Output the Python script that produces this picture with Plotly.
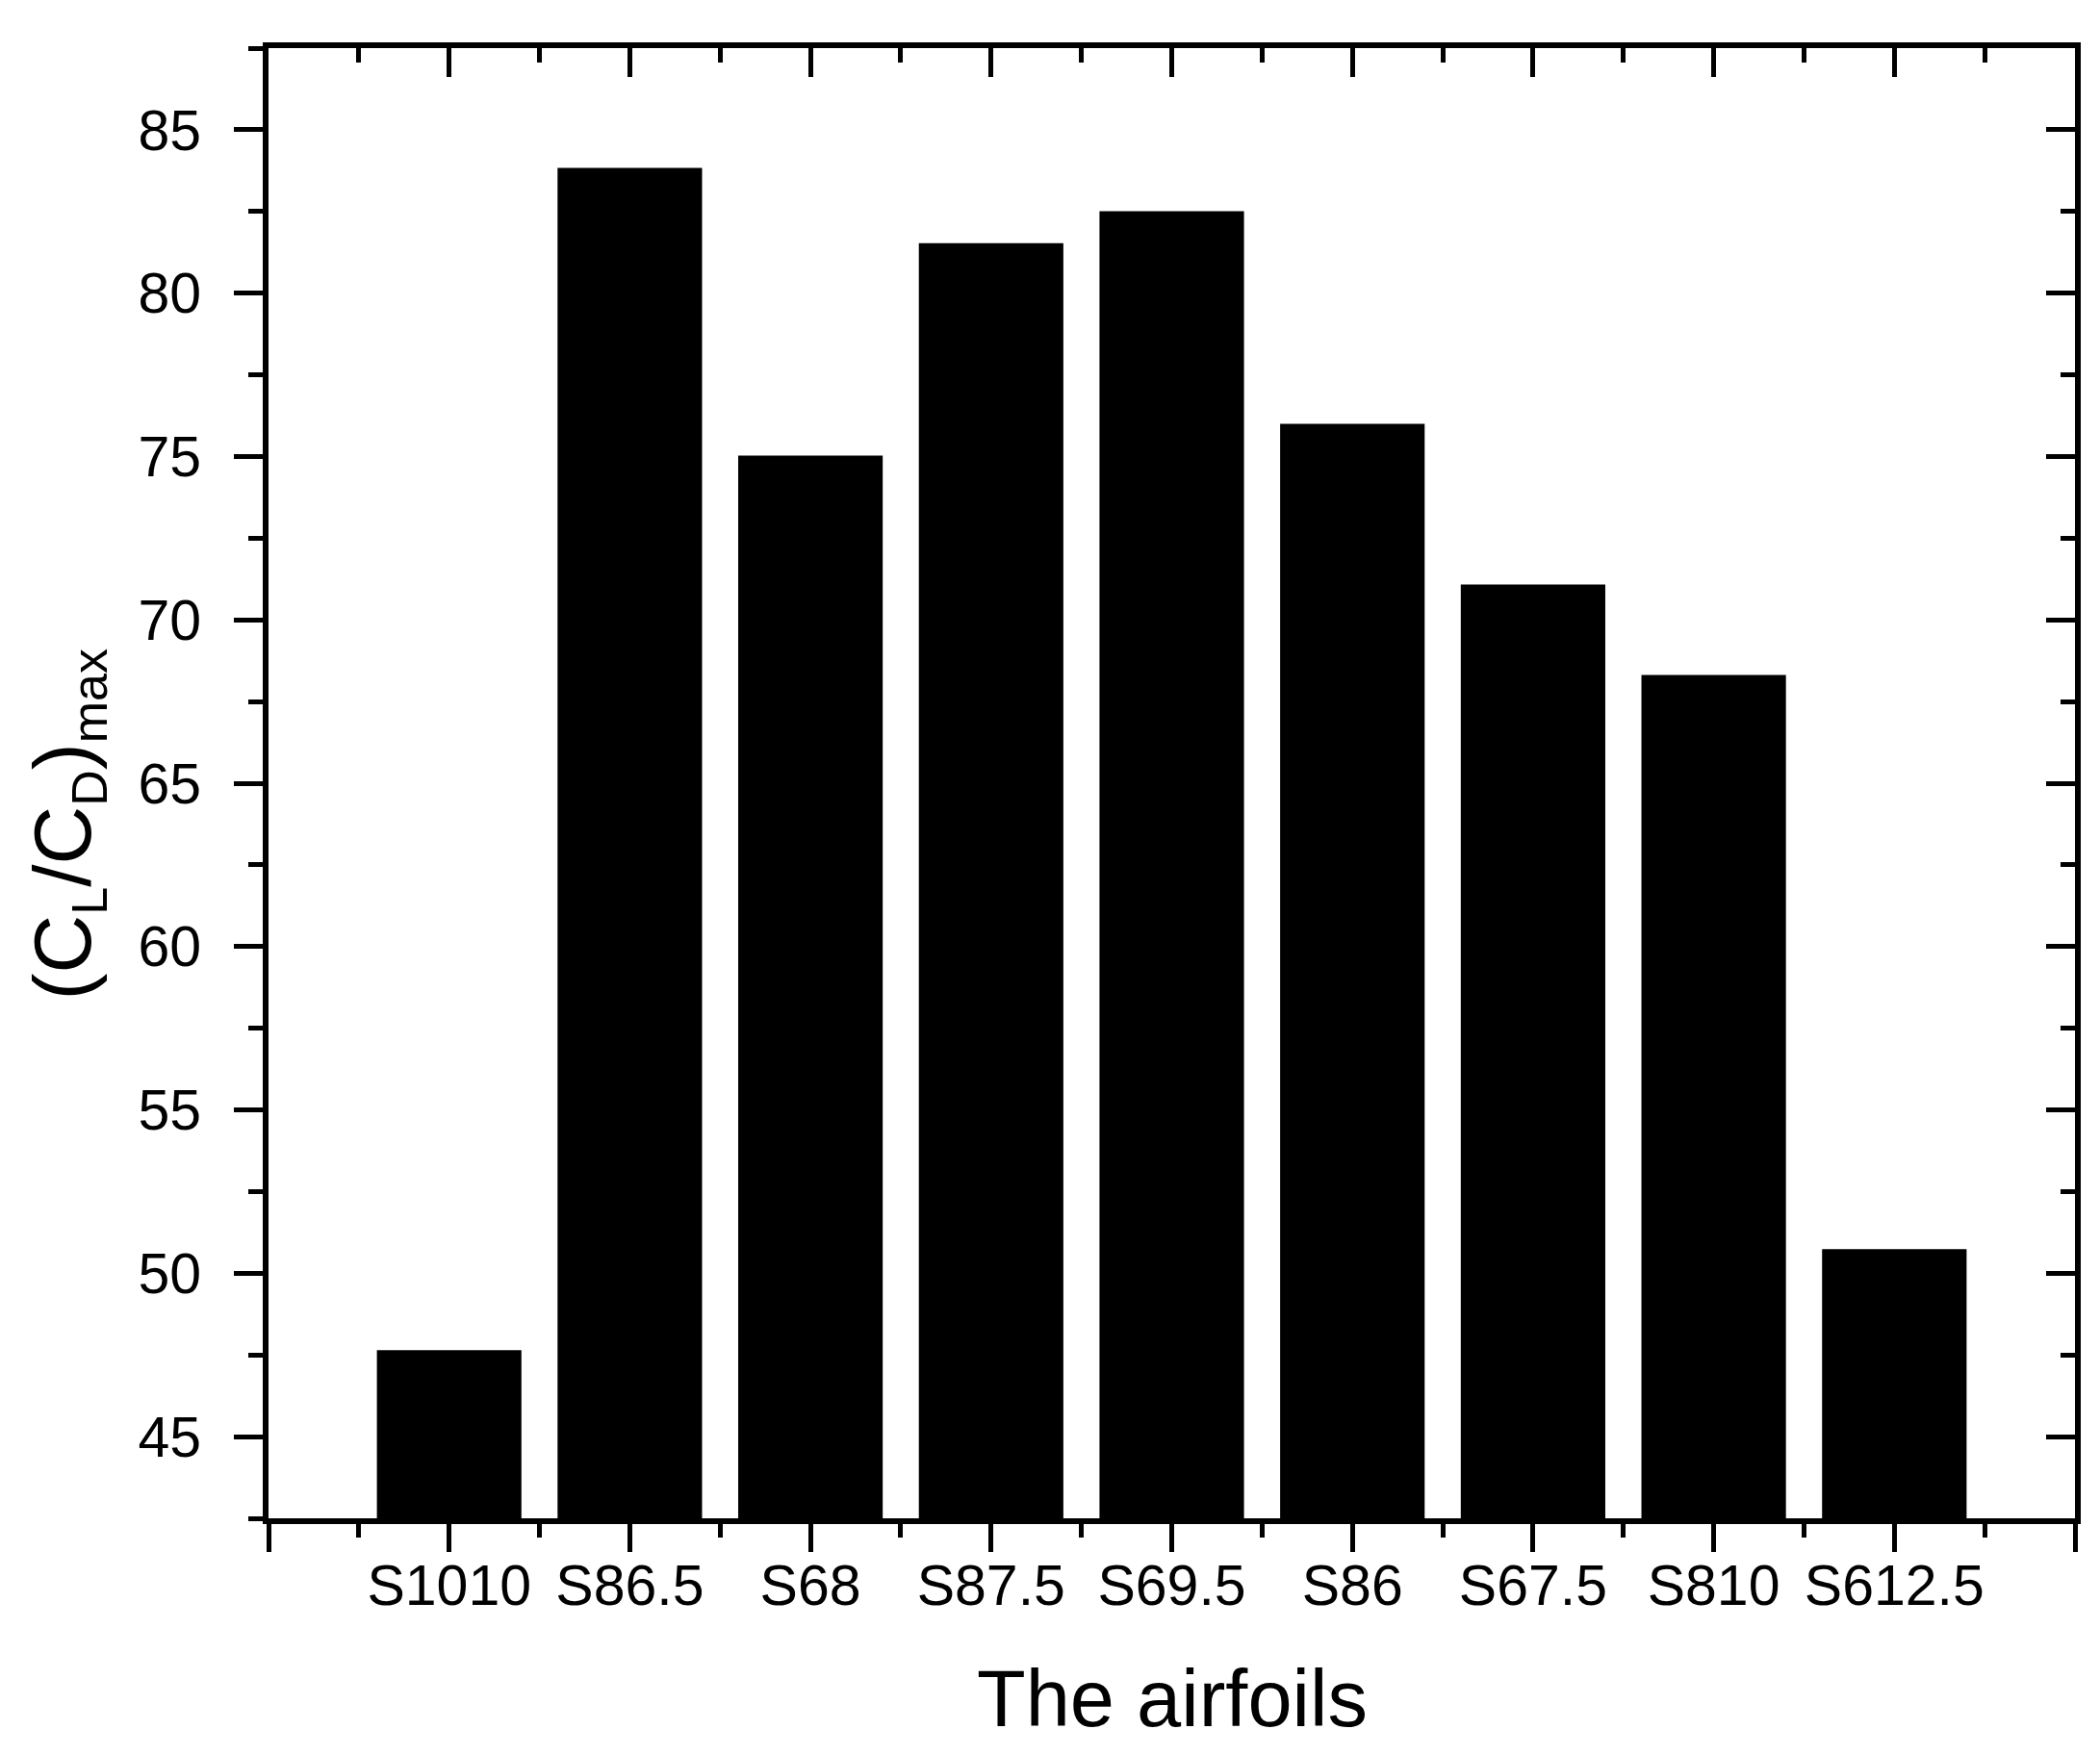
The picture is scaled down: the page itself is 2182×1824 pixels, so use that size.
import plotly.graph_objects as go

categories = ["S1010", "S86.5", "S68", "S87.5", "S69.5", "S86", "S67.5", "S810", "S612.5"]
values = [47.65, 83.83, 75.03, 81.53, 82.51, 76.00, 71.08, 68.31, 50.74]
y_tick_vals = [45, 50, 55, 60, 65, 70, 75, 80, 85]

n = len(categories)
xpos = list(range(1, n + 1))
FONT = "Liberation Sans, Arial, sans-serif"

fig = go.Figure()
fig.add_trace(go.Bar(x=xpos, y=values, width=0.8,
                     marker=dict(color="black", line=dict(width=0)),
                     showlegend=False, hoverinfo="x+y"))
# invisible trace to anchor the mirror axes
fig.add_trace(go.Scatter(x=[0], y=[45], xaxis="x2", yaxis="y2", mode="markers",
                         marker=dict(opacity=0), showlegend=False, hoverinfo="skip"))

xr = [0, n + 1]
yr = [42.5, 87.5]
major_x = list(range(0, n + 2))
minor_x = [v + 0.5 for v in range(0, n + 1)]
x_text = [""] + categories + [""]

common = dict(showgrid=False, zeroline=False, showline=True, linecolor="black",
              linewidth=6, tickcolor="black", tickwidth=5)

fig.update_layout(
    width=2182, height=1824,
    paper_bgcolor="white", plot_bgcolor="white",
    margin=dict(l=271, r=34, t=42, b=254),
    font=dict(family=FONT, color="black"),
    bargap=0.2,
    xaxis=dict(range=xr, tickmode="array", tickvals=major_x, ticktext=x_text,
               ticks="outside", ticklen=29,
               minor=dict(tickmode="array", tickvals=minor_x, ticks="outside",
                          ticklen=14, tickwidth=5, tickcolor="black", showgrid=False),
               tickfont=dict(size=59, family=FONT), ticklabelstandoff=-16,
               **common),
    yaxis=dict(range=yr, tickmode="array", tickvals=y_tick_vals,
               ticks="outside", ticklen=30,
               minor=dict(dtick=2.5, tick0=42.5, ticks="outside", ticklen=15,
                          tickwidth=5, tickcolor="black", showgrid=False),
               tickfont=dict(size=59, family=FONT), ticklabelstandoff=22,
               **common),
    xaxis2=dict(range=xr, overlaying="x", side="top", anchor="y2",
                tickmode="array", tickvals=major_x, showticklabels=False,
                ticks="inside", ticklen=30,
                minor=dict(tickmode="array", tickvals=minor_x, ticks="inside",
                           ticklen=15, tickwidth=5, tickcolor="black", showgrid=False),
                **common),
    yaxis2=dict(range=yr, overlaying="y", side="right", anchor="x2",
                tickmode="array", tickvals=y_tick_vals, showticklabels=False,
                ticks="inside", ticklen=30,
                minor=dict(dtick=2.5, tick0=42.5, ticks="inside", ticklen=15,
                           tickwidth=5, tickcolor="black", showgrid=False),
                **common),
)

fig.add_annotation(text="The airfoils", xref="paper", yref="paper",
                   x=0.5, y=-0.123, yanchor="middle", showarrow=False,
                   font=dict(size=83, family=FONT))
fig.add_annotation(
    text=("(C<sub><span style='font-size:52px'>L</span></sub>/C"
          "<sub><span style='font-size:52px'>D</span></sub>)"
          "<sub><span style='font-size:52px'>max</span></sub>"),
    xref="paper", yref="paper", x=-0.111, y=0.472,
    xanchor="center", yanchor="middle", textangle=-90, showarrow=False,
    font=dict(size=84, family=FONT))

fig.write_html("out.html")
